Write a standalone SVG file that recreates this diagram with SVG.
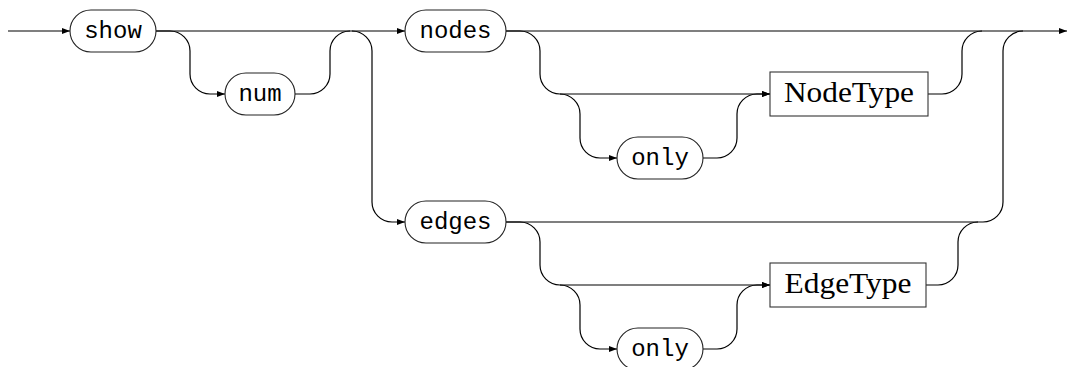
<svg xmlns="http://www.w3.org/2000/svg" width="1069" height="367" viewBox="0 0 1069 367">
<style>
.term rect{fill:#fff;stroke:#222;stroke-width:1.1}
.nt rect{fill:#fff;stroke:#333;stroke-width:1.1}
.term text{font-family:"Liberation Mono","DejaVu Sans Mono",monospace;font-size:24px;fill:#000;text-anchor:middle}
.nt text{font-family:"Liberation Serif","DejaVu Serif",serif;font-size:29px;fill:#000;text-anchor:middle}
#connectors path{fill:none;stroke:#000;stroke-width:1.2}
</style>
<defs>
<marker id="arr" markerUnits="userSpaceOnUse" markerWidth="9" markerHeight="7" refX="8" refY="3" orient="auto">
<path d="M0,0 L8,3 L0,6 z" fill="#000"/>
</marker>
</defs>
<g id="connectors">
<path d="M8,31 H70" marker-end="url(#arr)"/>
<path d="M156,31 H405" marker-end="url(#arr)"/>
<path d="M156,31 H170 A20,20 0 0 1 190,51 V74 A20,20 0 0 0 210,94 H225" marker-end="url(#arr)"/>
<path d="M295,94 H310 A20,20 0 0 0 330,74 V51 A20,20 0 0 1 350,31"/>
<path d="M352,31 A20,20 0 0 1 372,51 V202 A20,20 0 0 0 392,222 H405" marker-end="url(#arr)"/>
<path d="M506,31 H1067" marker-end="url(#arr)"/>
<path d="M506,31 H520 A20,20 0 0 1 540,51 V74 A20,20 0 0 0 560,94 H770" marker-end="url(#arr)"/>
<path d="M560,94 A20,20 0 0 1 580,114 V138 A20,20 0 0 0 600,158 H617" marker-end="url(#arr)"/>
<path d="M703,158 H717 A20,20 0 0 0 737,138 V114 A20,20 0 0 1 757,94 H770" marker-end="url(#arr)"/>
<path d="M928,94 H942 A20,20 0 0 0 962,74 V51 A20,20 0 0 1 982,31"/>
<path d="M506,222 H983 A20,20 0 0 0 1003,202 V51 A20,20 0 0 1 1023,31"/>
<path d="M506,222 H520 A20,20 0 0 1 540,242 V265 A20,20 0 0 0 560,285 H770" marker-end="url(#arr)"/>
<path d="M560,285 A20,20 0 0 1 580,305 V329 A20,20 0 0 0 600,349 H617" marker-end="url(#arr)"/>
<path d="M703,349 H717 A20,20 0 0 0 737,329 V305 A20,20 0 0 1 757,285 H770" marker-end="url(#arr)"/>
<path d="M926,285 H938 A20,20 0 0 0 958,265 V242 A20,20 0 0 1 978,222"/>
</g>
<g id="show" class="term"><rect x="70" y="10" width="86" height="42" rx="21"/><text x="113" y="38">show</text></g>
<g id="num" class="term"><rect x="225" y="73" width="70" height="42" rx="21"/><text x="260" y="101">num</text></g>
<g id="nodes" class="term"><rect x="405" y="10" width="101" height="42" rx="21"/><text x="455.5" y="38">nodes</text></g>
<g id="only1" class="term"><rect x="617" y="137" width="86" height="42" rx="21"/><text x="660" y="165">only</text></g>
<g id="edges" class="term"><rect x="405" y="201" width="101" height="42" rx="21"/><text x="455.5" y="229">edges</text></g>
<g id="only2" class="term"><rect x="617" y="328" width="86" height="42" rx="21"/><text x="660" y="356">only</text></g>
<g id="NodeType" class="nt"><rect x="770" y="72" width="158" height="44"/><text x="849" y="102" textLength="130" lengthAdjust="spacingAndGlyphs">NodeType</text></g>
<g id="EdgeType" class="nt"><rect x="770" y="263" width="156" height="44"/><text x="848" y="293" textLength="127" lengthAdjust="spacingAndGlyphs">EdgeType</text></g>
</svg>
